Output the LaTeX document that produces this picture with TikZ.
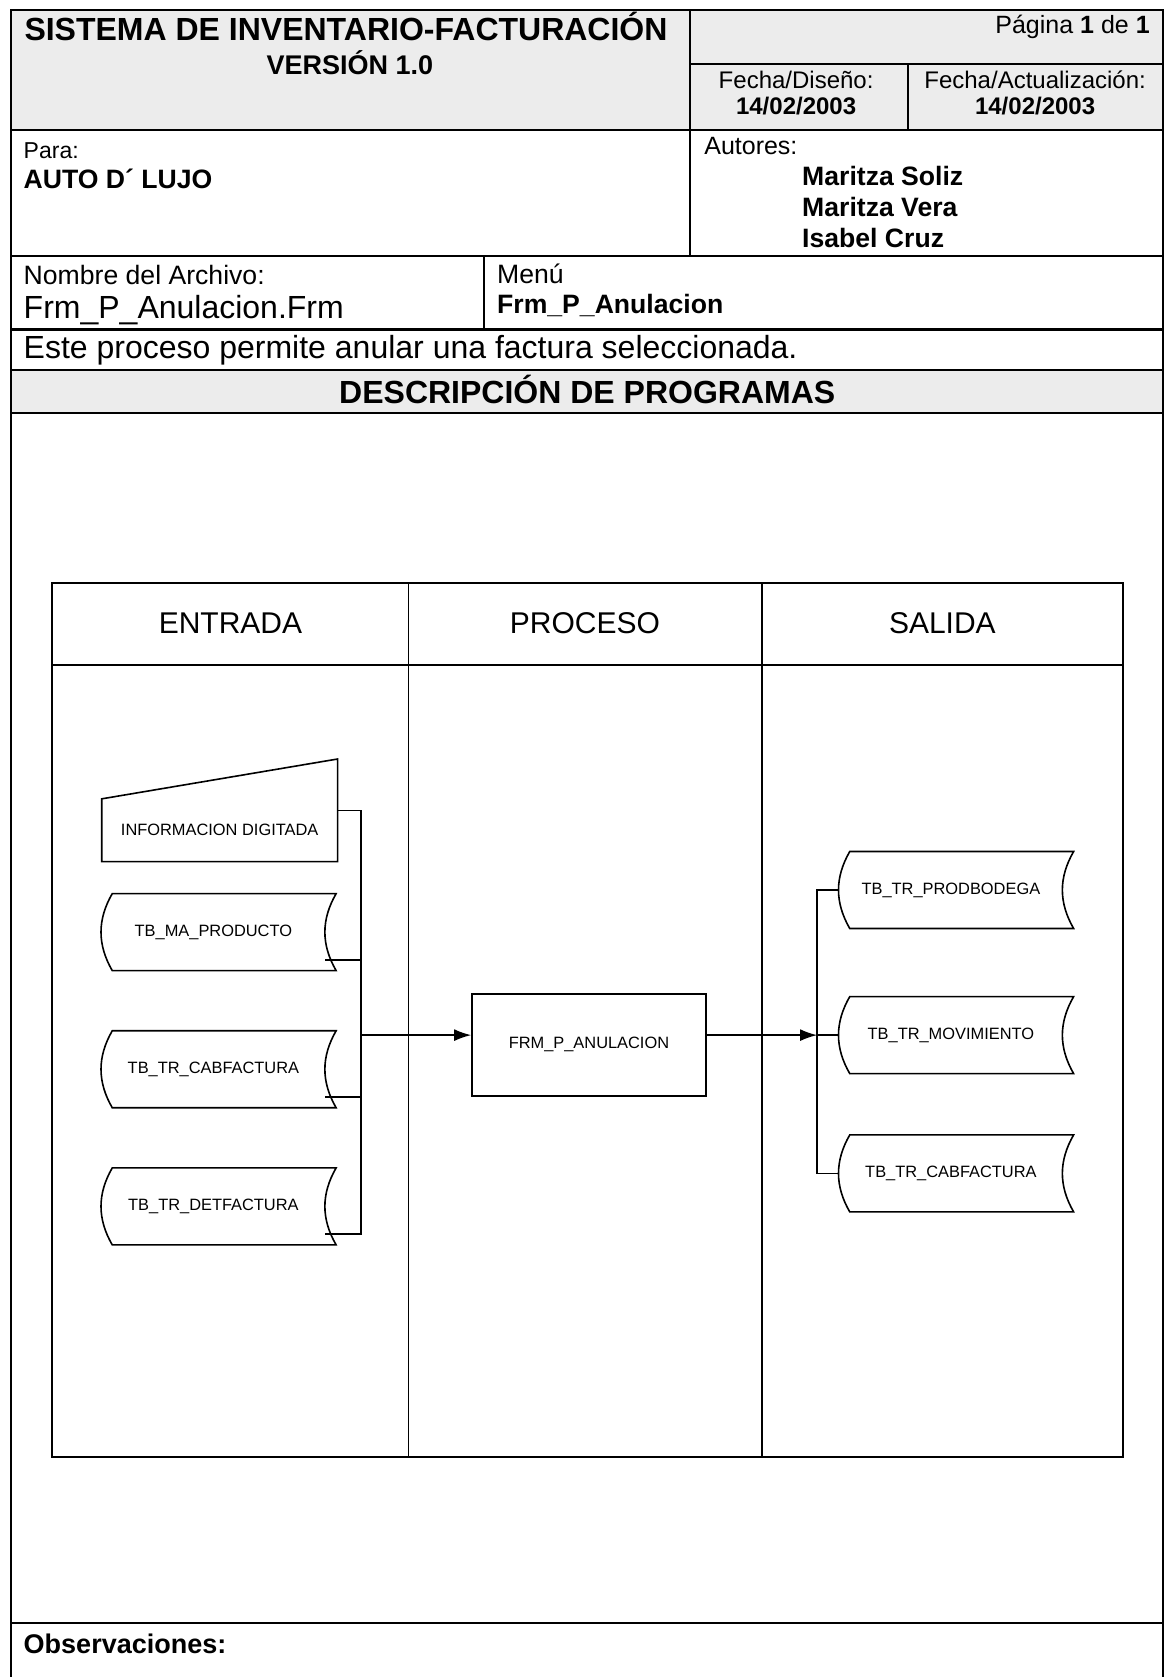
\documentclass[tikz,border=0pt]{standalone}
\usepackage{fontspec}
\setmainfont{Liberation Sans}
\usetikzlibrary{arrows.meta, positioning, calc}
\definecolor{screen}{RGB}{236,236,236}
\tikzset{
    frame/.style={line width=1.1pt},
    lane/.style={line width=0.8pt},
    formtxt/.style={inner sep=0pt, anchor=west},
    colhead/.style={inner sep=0pt, font=\fontsize{15}{18}\selectfont},
    procbox/.style={rectangle, draw=black, line width=0.8pt, minimum width=4.11cm,
        minimum height=1.79cm, inner sep=0pt, font=\fontsize{8.2}{10}\selectfont},
    stored/.style={rectangle, minimum width=3.92cm, minimum height=1.34cm,
        inner sep=0pt, font=\fontsize{8.2}{10}\selectfont},
    manual/.style={rectangle, minimum width=4.13cm, minimum height=1.09cm,
        inner sep=0pt, font=\fontsize{8.2}{10}\selectfont},
    arrow/.style={line width=0.8pt, -{Latex[length=0.30cm,width=0.21cm]}}
}

\begin{document}
\begin{tikzpicture}
\useasboundingbox (0,0) rectangle (20.47,-29.47);
% gray cells of the header
\fill[screen] (0.19,-0.17) rectangle (20.44,-2.29);
\fill[screen] (0.19,-6.50) rectangle (20.44,-7.26);
% form lines
\draw[frame] (0.19,-29.47) -- (0.19,-0.17) -- (20.44,-0.17) -- (20.44,-29.47);
\draw[frame] (12.13,-0.17) -- (12.13,-4.50);
\draw[frame] (12.13,-1.12) -- (20.44,-1.12);
\draw[frame] (15.95,-1.12) -- (15.95,-2.29);
\draw[frame] (8.50,-4.50) -- (8.50,-5.79);
\foreach \y in {-2.29,-4.50,-5.79,-6.50,-7.26,-28.52}
    \draw[frame] (0.19,\y) -- (20.44,\y);

% texts of the form
\node[inner sep=0pt, font=\fontsize{16}{19}\selectfont\bfseries] (titulo) at (6.08,-0.47) {SISTEMA DE INVENTARIO-FACTURACIÓN};
\node[inner sep=0pt, font=\fontsize{13.5}{16}\selectfont\bfseries] (version) at (6.15,-1.11) {VERSIÓN 1.0};
\node[formtxt, anchor=east, font=\fontsize{12.5}{15}\selectfont] (pagina) at (20.21,-0.48) {Página \textbf{1} de \textbf{1}};
\node[inner sep=0pt, align=center, font=\fontsize{12}{13}\selectfont] (fdiseno) at (13.99,-1.63) {Fecha/Diseño:\\\textbf{14/02/2003}};
\node[inner sep=0pt, align=center, font=\fontsize{12}{13}\selectfont] (factual) at (18.19,-1.63) {Fecha/Actualización:\\\textbf{14/02/2003}};
\node[formtxt, font=\fontsize{11.5}{14}\selectfont] (para) at (0.41,-2.64) {Para:};
\node[formtxt, font=\fontsize{13.3}{16}\selectfont\bfseries] (cliente) at (0.41,-3.15) {AUTO D´ LUJO};
\node[formtxt, font=\fontsize{12.5}{15}\selectfont] (autores) at (12.37,-2.56) {Autores:};
\node[formtxt, align=left, font=\fontsize{13.3}{15.5}\selectfont\bfseries] (nombres) at (14.09,-3.63) {Maritza Soliz\\Maritza Vera\\Isabel Cruz};
\node[formtxt, font=\fontsize{13.3}{16}\selectfont] (archivo) at (0.41,-4.83) {Nombre del Archivo:};
\node[formtxt, font=\fontsize{16}{19}\selectfont] (archnom) at (0.41,-5.45) {Frm\_P\_Anulacion.Frm};
\node[formtxt, font=\fontsize{13.3}{16}\selectfont] (menu) at (8.73,-4.81) {Menú};
\node[formtxt, font=\fontsize{13.3}{16}\selectfont\bfseries] (menunom) at (8.73,-5.36) {Frm\_P\_Anulacion};
\node[formtxt, font=\fontsize{16}{19}\selectfont] (detalle) at (0.41,-6.16) {Este proceso permite anular una factura seleccionada.};
\node[inner sep=0pt, font=\fontsize{16}{19}\selectfont\bfseries] (progs) at (10.32,-6.84) {DESCRIPCIÓN DE PROGRAMAS};
\node[formtxt, font=\fontsize{13.5}{16}\selectfont\bfseries] (obs) at (0.41,-28.88) {Observaciones:};

% lanes
\draw[lane] (0.91,-10.25) rectangle (19.73,-25.60);
\draw[lane] (0.91,-11.69) -- (19.73,-11.69);
\draw[lane] (7.18,-10.25) -- (7.18,-25.60);
\draw[lane] (13.39,-10.25) -- (13.39,-25.60);
\node[colhead] (entrada) at (4.05,-10.95) {ENTRADA};
\node[colhead] (proceso) at (10.28,-10.95) {PROCESO};
\node[colhead] (salida) at (16.56,-10.95) {SALIDA};

% shapes
\node[manual] (info) at (3.86,-14.59) {INFORMACION DIGITADA};
\node[stored] (prod) at (3.75,-16.38) {TB\_MA\_PRODUCTO};
\node[stored] (cabf) at (3.75,-18.79) {TB\_TR\_CABFACTURA};
\node[stored] (detf) at (3.75,-21.20) {TB\_TR\_DETFACTURA};
\node[procbox] (anul) at (10.35,-18.36) {FRM\_P\_ANULACION};
\node[stored] (bod) at (16.71,-15.64) {TB\_TR\_PRODBODEGA};
\node[stored] (mov) at (16.71,-18.19) {TB\_TR\_MOVIMIENTO};
\node[stored] (cabs) at (16.71,-20.62) {TB\_TR\_CABFACTURA};
\draw[lane] (info.south west) -- (info.south east) -- ([yshift=0.70cm]info.north east) -- (info.north west) -- cycle;
\foreach \n in {prod,cabf,detf,bod,mov,cabs}
    \draw[lane] ([xshift=0.19cm]\n.north west) to[bend right=30] ([xshift=0.19cm]\n.south west)
        -- ([xshift=0.19cm]\n.south east) to[bend left=30] ([xshift=0.19cm]\n.north east) -- cycle;

% connectors
\coordinate (inbus) at (6.34,-18.19);
\coordinate (outbus) at (14.36,-18.19);
\draw[lane] ([yshift=0.35cm]info.east) -| (inbus);
\foreach \n in {prod,cabf,detf}
    \draw[lane] ([yshift=-0.49cm]\n.east) -| (inbus);
\draw[arrow] (inbus) -- (inbus -| anul.west);
\draw[arrow] (inbus -| anul.east) -- (outbus);
\foreach \n in {bod,mov,cabs}
    \draw[lane] (outbus) |- (\n.west);
\end{tikzpicture}
\end{document}
